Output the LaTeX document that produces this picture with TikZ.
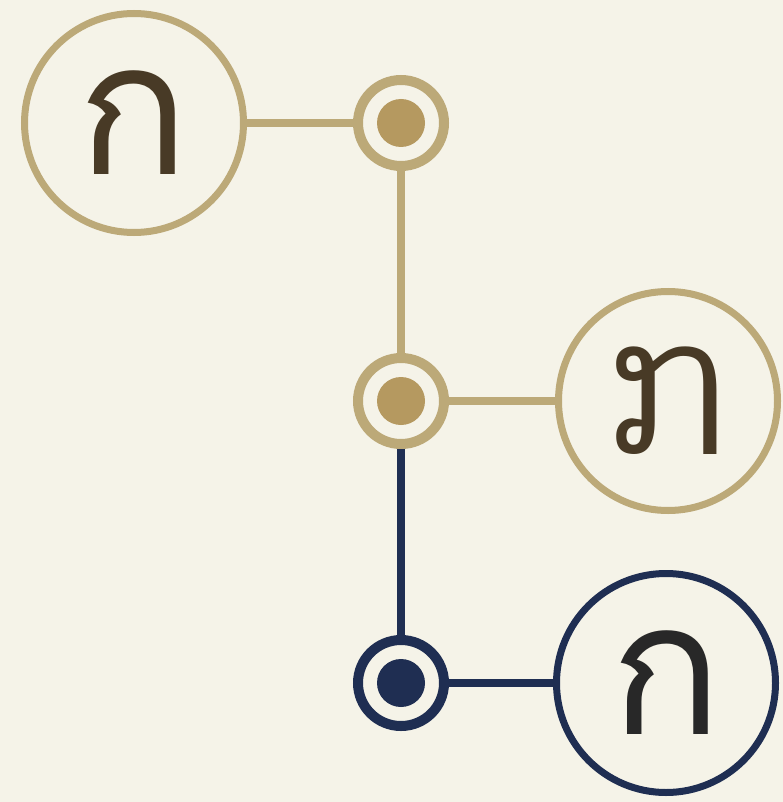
\documentclass[tikz,border=0pt]{standalone}
\usepackage{fontspec}
\newfontfamily\thaifont[Script=Thai]{Loma}
\newfontfamily\laofont[Script=Lao]{Dhyana}
\definecolor{bgc}{RGB}{245,243,232}
\definecolor{goldring}{RGB}{188,169,120}
\definecolor{golddot}{RGB}{181,153,96}
\definecolor{navyc}{RGB}{31,46,82}
\definecolor{glyphbrown}{RGB}{72,58,38}
\definecolor{glyphdark}{RGB}{40,40,40}
\begin{document}
\begin{tikzpicture}[x=1pt,y=-1pt,
  bigcircle/.style={circle,draw,line width=7pt,fill=bgc,minimum size=219pt,inner sep=0pt,
    font=\fontsize{185}{185}\selectfont},
  smallring/.style={circle,draw,line width=10pt,fill=bgc,minimum size=86pt,inner sep=0pt},
  dot/.style={circle,minimum size=48pt,inner sep=0pt},
  link/.style={line width=8pt}]
\fill[bgc] (0,0) rectangle (783,802);
\useasboundingbox (0,0) rectangle (783,802);
% nodes
\node[bigcircle,draw=goldring,text=glyphbrown] (tl) at (134,123) {\thaifont ก};
\node[smallring,draw=goldring] (n1) at (401,123) {};
\node[smallring,draw=goldring] (n2) at (401,401) {};
\node[bigcircle,draw=goldring,text=glyphbrown] (ml) at (668,401) {\scalebox{0.85}[1]{\laofont ກ}};
\node[smallring,draw=navyc] (n3) at (401,683) {};
\node[bigcircle,draw=navyc,text=glyphdark] (br) at (666,683) {\thaifont ก};
% inner dots
\node[dot,fill=golddot] (d1) at (n1.center) {};
\node[dot,fill=golddot] (d2) at (n2.center) {};
\node[dot,fill=navyc] (d3) at (n3.center) {};
% connectors
\draw[link,goldring] (tl) -- (n1);
\draw[link,goldring] (n1) -- (n2);
\draw[link,goldring] (n2) -- (ml);
\draw[link,navyc] (n2) -- (n3);
\draw[link,navyc] (n3) -- (br);
\end{tikzpicture}
\end{document}
